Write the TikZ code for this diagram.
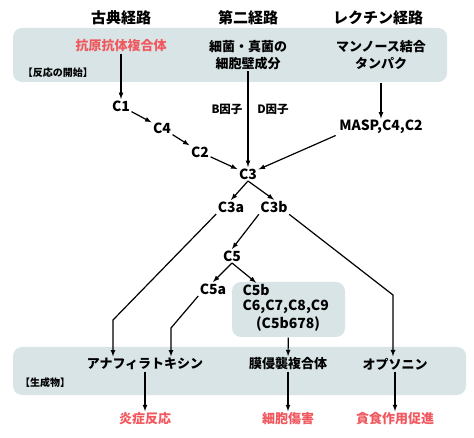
\documentclass[tikz,border=0pt]{standalone}
\usepackage{fontspec}
\setmainfont{Noto Sans CJK JP}
\definecolor{panelbg}{HTML}{D8E4E6}
\definecolor{redtxt}{HTML}{F0585E}
\begin{document}
\begin{tikzpicture}[>=latex, x=1pt, y=-1pt, line width=1.2pt,
    lbl/.style={font=\fontsize{13}{17}\selectfont\bfseries, inner sep=1pt},
    cmp/.style={font=\fontsize{14}{17}\selectfont\bfseries, inner sep=1pt},
    ttl/.style={font=\fontsize{15}{17}\selectfont\bfseries, inner sep=1pt},
    res/.style={lbl, text=redtxt},
    tag/.style={font=\fontsize{10}{12}\selectfont\bfseries, inner sep=1pt},
    fac/.style={font=\fontsize{11.5}{13}\selectfont\bfseries, inner sep=1pt},
    panel/.style={fill=panelbg, rounded corners=9pt, inner sep=0pt}]
    \useasboundingbox (0,0) rectangle (474,438);
    % Hintergrund
    \node[panel, minimum width=434pt, minimum height=54pt] (topbox) at (230,55) {};
    \node[panel, minimum width=453pt, minimum height=48pt] (botbox) at (239.5,371) {};
    \node[panel, minimum width=113pt, minimum height=55pt] (macbox) at (288.5,309.5) {};
    % Titel
    \node[ttl] (classic) at (121,18) {古典経路};
    \node[ttl] (alt) at (248,18) {第二経路};
    \node[ttl] (lectin) at (378,18) {レクチン経路};
    % Start
    \node[res] (antigen) at (121,46) {抗原抗体複合体};
    \node[lbl, align=center] (wall) at (248,55) {細菌・真菌の\\細胞壁成分};
    \node[lbl, align=center] (mbl) at (381,55) {マンノース結合\\タンパク};
    \node[tag] (start) at (58,73) {【反応の開始】};
    % Kaskade
    \node[cmp] (c1) at (121,106) {C1};
    \node[cmp] (c4) at (162,128) {C4};
    \node[cmp] (c2) at (200,152) {C2};
    \node[cmp] (c3) at (248,174) {C3};
    \node[cmp] (masp) at (381,127) {MASP,C4,C2};
    \node[fac] (bf) at (227,109) {B因子};
    \node[fac] (df) at (273,109) {D因子};
    \node[cmp] (c3a) at (231,207) {C3a};
    \node[cmp] (c3b) at (274,207) {C3b};
    \node[cmp] (c5) at (232,256) {C5};
    \node[cmp] (c5a) at (213,289) {C5a};
    \node[cmp, anchor=west] (c5b) at (241,290) {C5b};
    \node[cmp, anchor=west] (c69) at (241,307) {C6,C7,C8,C9};
    \node[cmp] (c5b678) at (288,324) {(C5b678)};
    % Produkte
    \node[lbl] (ana) at (145,364) {アナフィラトキシン};
    \node[lbl] (mem) at (288,364) {膜侵襲複合体};
    \node[lbl] (ops) at (395,364) {オプソニン};
    \node[tag] (prod) at (45,383) {【生成物】};
    \node[res] (inflam) at (145,419) {炎症反応};
    \node[res] (cell) at (288,419) {細胞傷害};
    \node[res] (phago) at (395,419) {貪食作用促進};
    % Pfeile
    \draw[->] (antigen) -- (c1);
    \draw[->] (c1) -- (c4);
    \draw[->] (c4) -- (c2);
    \draw[->] (c2) -- (c3);
    \draw[->] (wall) -- (c3);
    \draw[->] (mbl.south |- topbox.south) -- (masp);
    \draw[->] ([xshift=-2pt]masp.south west) -- (c3);
    \draw[->] (c3.south) -- (c3a.north);
    \draw[->] (c3.south) -- (c3b.north);
    \draw[->] (c3b.south west) -- (c5.north);
    \draw[->] (c5.south) -- (c5a.north);
    \draw[->] (c5.south) -- (c5b.north);
    \coordinate (bendA) at (113,320);
    \coordinate (bendB) at (171,328);
    \coordinate (bendC) at (393,295);
    \draw[->] (c3a.south west) -- (bendA) -- (ana.north -| bendA);
    \draw[->] (c5a.south west) -- (bendB) -- (ana.north -| bendB);
    \draw[->] (c3b.south east) -- (bendC) -- (ops.north -| bendC);
    \draw[->] (macbox) -- (mem);
    \draw[->] (ana) -- (inflam);
    \draw[->] (mem) -- (cell);
    \draw[->] (ops) -- (phago);
\end{tikzpicture}
\end{document}
